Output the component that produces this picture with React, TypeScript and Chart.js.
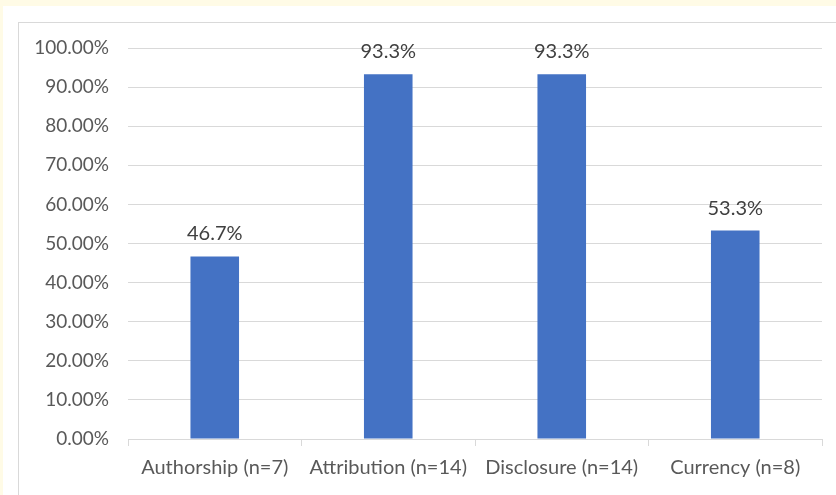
import React, { useEffect, useRef } from "react";
import { Chart, registerables } from "chart.js";

Chart.register(...registerables);

const categories = ["Authorship (n=7)", "Attribution (n=14)", "Disclosure (n=14)", "Currency (n=8)"];
const values = [0.467, 0.933, 0.933, 0.533];
const valueLabels = ["46.7%", "93.3%", "93.3%", "53.3%"];

const FONT = "Lato, 'Open Sans', sans-serif";

const dataLabelPlugin = {
  id: "dataLabels",
  afterDatasetsDraw(chart: any) {
    const ctx = chart.ctx;
    const meta = chart.getDatasetMeta(0);
    ctx.save();
    ctx.font = `20px ${FONT}`;
    ctx.fillStyle = "#404040";
    ctx.textAlign = "center";
    ctx.textBaseline = "alphabetic";
    meta.data.forEach((bar: any, i: number) => {
      ctx.fillText(valueLabels[i], bar.x, bar.y - 16);
    });
    ctx.restore();
  },
};

export default function App() {
  const ref = useRef<HTMLCanvasElement>(null);
  useEffect(() => {
    const chart = new Chart(ref.current!, {
      type: "bar",
      data: {
        labels: categories,
        datasets: [
          {
            data: values,
            backgroundColor: "#4472C4",
            categoryPercentage: 1,
            barPercentage: 0.28,
          },
        ],
      },
      options: {
        animation: false,
        responsive: false,
        maintainAspectRatio: false,
        layout: { padding: { left: 0, right: 14, top: 48, bottom: 0 } },
        plugins: { legend: { display: false }, tooltip: { enabled: false } },
        scales: {
          x: {
            afterFit(scale: any) {
              scale.height = 56;
            },
            grid: {
              drawOnChartArea: false,
              drawTicks: true,
              tickLength: 7,
              tickColor: "#d9d9d9",
            },
            border: { display: true, color: "#d9d9d9" },
            ticks: {
              color: "#595959",
              font: { family: FONT, size: 20 },
              padding: 10,
              maxRotation: 0,
              autoSkip: false,
            },
          },
          y: {
            min: 0,
            max: 1,
            afterFit(scale: any) {
              scale.width = 128;
            },
            grid: { color: "#d9d9d9", drawTicks: false },
            border: { display: false },
            ticks: {
              stepSize: 0.1,
              color: "#595959",
              font: { family: FONT, size: 19 },
              padding: 19,
              callback: (v: any) => (Number(v) * 100).toFixed(2) + "%",
            },
          },
        },
      },
      plugins: [dataLabelPlugin],
    });
    return () => chart.destroy();
  }, []);

  return (
    <div
      style={{
        position: "fixed",
        left: 0,
        top: 0,
        width: 836,
        height: 495,
        background: "#FFFBE6",
        overflow: "hidden",
      }}
    >
      <div
        style={{
          position: "absolute",
          left: 3,
          top: 6,
          width: 840,
          height: 500,
          background: "#ffffff",
        }}
      />
      <div
        style={{
          position: "absolute",
          left: 18,
          top: 22,
          width: 840,
          height: 500,
          border: "1px solid #d9d9d9",
          boxSizing: "border-box",
        }}
      />
      <canvas
        ref={ref}
        width={836}
        height={495}
        style={{ position: "absolute", left: 0, top: 0, width: 836, height: 495 }}
      />
    </div>
  );
}
